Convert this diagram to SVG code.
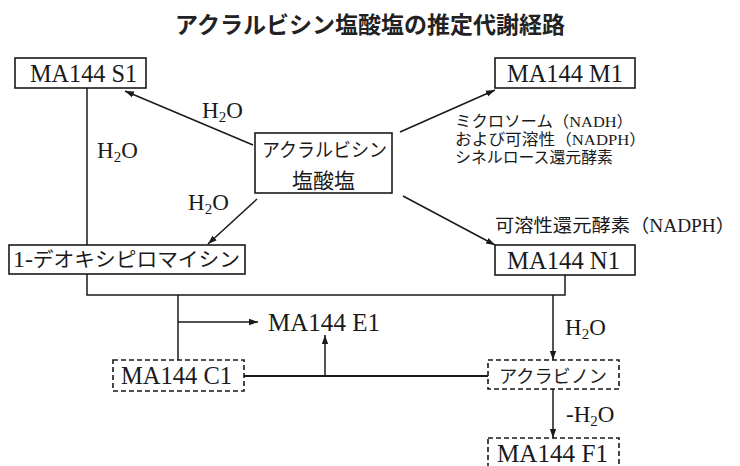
<svg xmlns="http://www.w3.org/2000/svg" width="740" height="466" viewBox="0 0 740 466">
<defs>
<marker id="ah" viewBox="0 0 10 10" refX="10" refY="5" markerWidth="9" markerHeight="9" markerUnits="userSpaceOnUse" orient="auto">
<path d="M0,1.5 L10,5 L0,8.5 Z" fill="#1a1a1a"/>
</marker>
<style>
.box{fill:#fff;stroke:#1a1a1a;stroke-width:1.6}
.dbox{fill:#fff;stroke:#1a1a1a;stroke-width:1.6;stroke-dasharray:5 3}
.ln{fill:none;stroke:#1a1a1a;stroke-width:1.5}
.t{font-family:"Liberation Serif","Noto Sans CJK JP",serif;fill:#1a1a1a}
.lat{font-size:25px}
.jp{font-family:"Noto Sans CJK JP","Liberation Serif",sans-serif;fill:#1a1a1a}
.enz{font-family:"Liberation Serif","Noto Sans CJK JP",serif;font-size:15.5px;fill:#1a1a1a}
.lbl{font-family:"Liberation Serif",serif;font-size:23px;fill:#1a1a1a}
.sub{font-size:15px}
.title{font-family:"Noto Sans CJK JP",sans-serif;font-weight:bold;font-size:23px;fill:#222}
</style>
</defs>
<rect width="740" height="466" fill="#fff"/>
<text class="title" x="370" y="33" text-anchor="middle">アクラルビシン塩酸塩の推定代謝経路</text>

<g id="connectors">
<line class="ln" x1="87" y1="88" x2="87" y2="245"/>
<line class="ln" x1="253" y1="145" x2="125" y2="91" marker-end="url(#ah)"/>
<line class="ln" x1="400" y1="132" x2="495" y2="90" marker-end="url(#ah)"/>
<line class="ln" x1="403" y1="196" x2="495" y2="245" marker-end="url(#ah)"/>
<line class="ln" x1="257" y1="199" x2="208" y2="244" marker-end="url(#ah)"/>
<polyline class="ln" points="87,274 87,295 565,295 565,275"/>
<line class="ln" x1="178" y1="295" x2="178" y2="360"/>
<line class="ln" x1="178" y1="322" x2="258" y2="322" marker-end="url(#ah)"/>
<line class="ln" x1="553" y1="295" x2="553" y2="360" marker-end="url(#ah)"/>
<line class="ln" x1="244" y1="376" x2="488" y2="376" style="stroke-width:2"/>
<line class="ln" x1="325" y1="376" x2="325" y2="335" marker-end="url(#ah)"/>
<line class="ln" x1="553" y1="389" x2="553" y2="438" marker-end="url(#ah)"/>
<text class="lbl" x="202" y="118">H<tspan class="sub" dy="4">2</tspan><tspan dy="-4">O</tspan></text>
<text class="lbl" x="97" y="158">H<tspan class="sub" dy="4">2</tspan><tspan dy="-4">O</tspan></text>
<text class="lbl" x="188" y="210">H<tspan class="sub" dy="4">2</tspan><tspan dy="-4">O</tspan></text>
<text class="lbl" x="565" y="335">H<tspan class="sub" dy="4">2</tspan><tspan dy="-4">O</tspan></text>
<text class="lbl" x="566" y="422">-H<tspan class="sub" dy="4">2</tspan><tspan dy="-4">O</tspan></text>
<text class="enz" x="455" y="127" textLength="178" lengthAdjust="spacingAndGlyphs">ミクロソーム（NADH）</text>
<text class="enz" x="455" y="145" textLength="191" lengthAdjust="spacingAndGlyphs">および可溶性（NADPH）</text>
<text class="enz" x="455" y="163" textLength="158" lengthAdjust="spacingAndGlyphs">シネルロース還元酵素</text>
<text class="t" font-size="18" x="495" y="232" textLength="240" lengthAdjust="spacingAndGlyphs">可溶性還元酵素（NADPH）</text>
</g>

<g id="node-s1">
<rect class="box" x="15" y="58" width="131" height="30"/>
<text class="t lat" x="30" y="82" textLength="107" lengthAdjust="spacingAndGlyphs">MA144 S1</text>
</g>
<g id="node-m1">
<rect class="box" x="495" y="58" width="140" height="30"/>
<text class="t lat" x="507" y="82" textLength="116" lengthAdjust="spacingAndGlyphs">MA144 M1</text>
</g>
<g id="node-aclarubicin">
<rect class="box" x="255" y="133" width="137" height="60"/>
<text class="jp" font-size="19" x="262" y="157" textLength="125" lengthAdjust="spacingAndGlyphs">アクラルビシン</text>
<text class="jp" font-size="21" x="323.5" y="188" text-anchor="middle">塩酸塩</text>
</g>
<g id="node-deoxy">
<rect class="box" x="9" y="245" width="236" height="29"/>
<text class="t" font-size="20" x="13" y="267" textLength="227" lengthAdjust="spacingAndGlyphs"><tspan font-size="23">1-</tspan>デオキシピロマイシン</text>
</g>
<g id="node-n1">
<rect class="box" x="495" y="245" width="140" height="30"/>
<text class="t lat" x="507" y="269" textLength="113" lengthAdjust="spacingAndGlyphs">MA144 N1</text>
</g>
<g id="node-e1">
<text class="t lat" x="268" y="331" textLength="112" lengthAdjust="spacingAndGlyphs">MA144 E1</text>
</g>
<g id="node-c1">
<rect class="dbox" x="113" y="360" width="131" height="31"/>
<text class="t lat" x="121" y="384" textLength="111" lengthAdjust="spacingAndGlyphs">MA144 C1</text>
</g>
<g id="node-aklavinone">
<rect class="dbox" x="488" y="360" width="131" height="29"/>
<text class="jp" font-size="18" x="499" y="383" textLength="108" lengthAdjust="spacingAndGlyphs">アクラビノン</text>
</g>
<g id="node-f1">
<rect class="dbox" x="488" y="438" width="131" height="32"/>
<text class="t lat" x="497" y="462" textLength="111" lengthAdjust="spacingAndGlyphs">MA144 F1</text>
</g>
</svg>
